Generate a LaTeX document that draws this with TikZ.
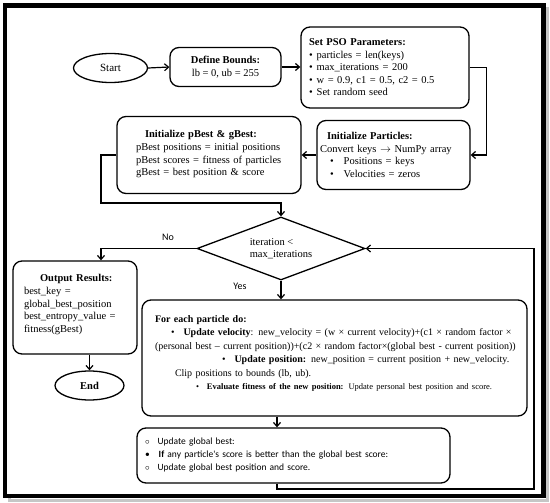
\documentclass[tikz,border=0pt]{standalone}
\usepackage{fontspec}
\setmainfont{Liberation Serif}
\newfontfamily\calibri{Carlito}
\usetikzlibrary{arrows.meta,shapes.geometric}
\tikzset{
  box/.style={draw, line width=1.3pt, rounded corners=9pt, inner sep=0pt,
    font=\fontsize{10.5}{12.5}\selectfont},
  term/.style={draw, ellipse, line width=1.3pt, minimum width=74pt,
    minimum height=29pt, inner sep=0pt, font=\fontsize{11}{12.5}\selectfont},
  link/.style={line width=1.2pt, -{Straight Barb[length=4pt,width=7pt]}},
  tag/.style={font=\calibri\fontsize{10}{12}\selectfont}}

\begin{document}
\begin{tikzpicture}[x=1pt, y=-1pt]
  \useasboundingbox (0,0) rectangle (550,503);
  % page frame with shadow
  \draw[gray!45, line width=3pt] (9,9) rectangle (547,500);
  \draw[line width=4.5pt, fill=white] (5,5.5) rectangle (543.5,496);

  \node[term] (start) at (110.5,68) {Start};
  \node[box, minimum width=111pt, minimum height=39pt, align=center] (bounds) at (225.5,67)
    {\textbf{Define Bounds:}\\lb = 0, ub = 255};
  \node[box, text width=152pt, inner xsep=8pt, minimum height=81pt, align=left] (pso) at (385,67.5)
    {\textbf{Set PSO Parameters:}\\
     \textbullet\hspace{4pt}particles = len(keys)\\
     \textbullet\hspace{4pt}max\_iterations = 200\\
     \textbullet\hspace{4pt}w = 0.9, c1 = 0.5, c2 = 0.5\\
     \textbullet\hspace{4pt}Set random seed};
  \node[box, text width=147pt, inner xsep=3pt, minimum height=69pt, align=left] (particles) at (393.5,155)
    {\hspace*{7pt}\textbf{Initialize Particles:}\\
     Convert keys $\rightarrow$ NumPy array\\
     \hspace*{10pt}\textbullet\hspace{10pt}Positions = keys\\
     \hspace*{10pt}\textbullet\hspace{10pt}Velocities = zeros};
  \node[box, text width=160pt, inner xsep=12pt, minimum height=77pt, align=left] (pbest) at (209,155)
    {\hspace*{16pt}\textbf{Initialize pBest \& gBest:}\\[1pt]
     \hspace*{7pt}pBest positions = initial positions\\
     \hspace*{7pt}pBest scores = fitness of particles\\
     \hspace*{7pt}gBest = best position \& score\\[-8pt]\mbox{}};
  \node[draw, diamond, aspect=2.67, minimum width=168pt, minimum height=63pt, inner sep=0pt,
    line width=1.3pt, align=left, font=\fontsize{10.5}{12.5}\selectfont] (dec) at (281,248.5)
    {iteration <\\max\_iterations};
  \node[box, text width=102pt, inner xsep=11pt, minimum height=93pt, align=left,
    font=\fontsize{10.5}{12.7}\selectfont] (output) at (75,307.5)
    {\hspace*{16pt}\textbf{Output Results:}\\
     best\_key =\\
     global\_best\_position\\
     best\_entropy\_value =\\
     fitness(gBest)\\[-5pt]\mbox{}};
  \node[term, minimum width=69pt, font=\bfseries\fontsize{10.5}{12.5}\selectfont] (stop) at (89.5,385.5) {End};
  \node[box, text width=369pt, inner xsep=8pt, minimum height=116pt, align=left,
    font=\fontsize{10}{13.5}\selectfont] (each) at (334.5,358)
    {\hspace*{5pt}\textbf{For each particle do:}\\
     \hspace*{21pt}\textbullet\hspace{9pt}\textbf{Update velocity}: new\_velocity = (w × current velocity)+(c1 × random factor ×\\
     \hspace*{5pt}(personal best – current position))+(c2 × random factor×(global best - current position))\\
     \hspace*{72pt}\textbullet\hspace{9pt}\textbf{Update position:} new\_position = current position + new\_velocity.\\
     \hspace*{25pt}Clip positions to bounds (lb, ub).\\
     {\fontsize{8.5}{10}\selectfont\hspace*{46pt}\textbullet\hspace{8pt}\textbf{Evaluate fitness of the new position:} Update personal best position and score.}\\[-3pt]\mbox{}};
  \node[box, text width=297pt, inner xsep=8pt, minimum height=55pt, align=left,
    font=\calibri\fontsize{9.5}{13}\selectfont] (gbest) at (293.5,455.5)
    {$\circ$\hspace{8pt}Update global best:\\
     \textbullet\hspace{9pt}\textbf{If} any particle's score is better than the global best score:\\
     $\circ$\hspace{8pt}Update global best position and score.};

  \coordinate (jn) at (101,203);
  \coordinate (lp) at (277,489);
  \coordinate (lc) at (534,489);

  \draw[link] (start.east) -- (bounds.west);
  \draw[link] (bounds.east) -- (bounds.east -| pso.west);
  \draw[link] (pso.east) -- ++(17,0) |- (particles.east);
  \draw[link] (particles.west) -- (pbest.east);
  \draw[link] (pbest.west) -| (jn) -| (dec.north);
  \draw[link] (dec.west) -| (output.north -| jn);
  \node[tag] (no) at (168,237) {No};
  \draw[link] (output.south -| stop) -- (stop.north);
  \draw[link] (dec.south) -- (dec.south |- each.north);
  \node[tag] (yes) at (240,286) {Yes};
  \draw[link] (each.south -| lp) -- (gbest.north -| lp);
  \draw[link] (gbest.south -| lp) -- (lp) -- (lc) |- (dec.east);
\end{tikzpicture}
\end{document}
